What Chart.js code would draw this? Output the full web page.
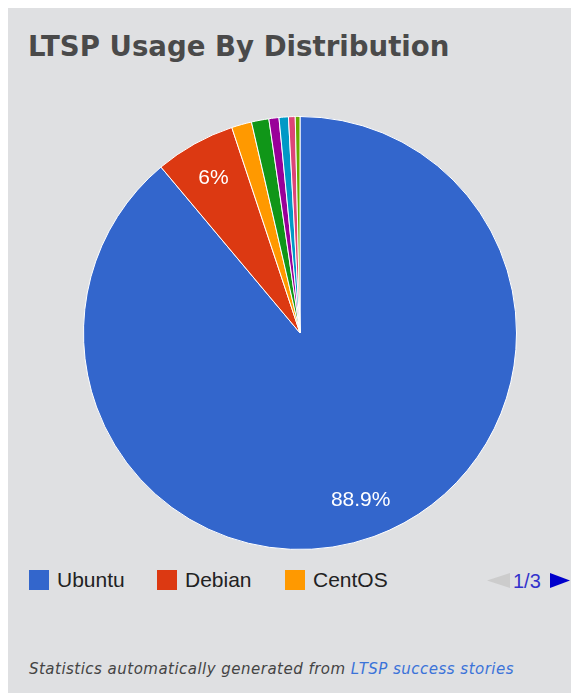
<!DOCTYPE html>
<html>
<head>
<meta charset="utf-8">
<script src="https://cdn.jsdelivr.net/npm/chart.js@4"></script>
<style>
  body { margin: 0; background: #fff; }
  #panel { position: absolute; left: 8px; top: 8px; width: 563px; height: 685px; background: #dfe0e2; }
  #title { position: absolute; left: 20px; top: 22px; margin: 0; font: bold 27.6px "DejaVu Sans", sans-serif; color: #4a4a4a; white-space: nowrap; }
  #pie { position: absolute; left: 75px; top: 108px; }
  #legend { position: absolute; left: 21px; top: 562px; height: 20px; font: 21px "Liberation Sans", Arial, sans-serif; color: #222; }
  .item { position: absolute; top: 0; white-space: nowrap; }
  .box { position: absolute; left: 0; top: 0; width: 20px; height: 20px; }
  .item span { position: absolute; left: 28px; top: -2px; }
  #pager { position: absolute; left: 479px; top: 563px; font: 20px "Liberation Sans", Arial, sans-serif; color: #3333cc; white-space: nowrap; }
  #footer { position: absolute; left: 21px; top: 652px; font: oblique 15px "DejaVu Sans", sans-serif; letter-spacing: 0.48px; color: #444; white-space: nowrap; }
  #footer a { color: #3b73d9; text-decoration: none; }
</style>
</head>
<body>
<div id="panel">
  <h1 id="title">LTSP Usage By Distribution</h1>
  <canvas id="pie" width="434" height="434"></canvas>
  <div id="legend"></div>
  <div id="pager">
    <svg width="23" height="15" style="position:absolute;left:0;top:2px"><polygon points="23,0 23,15 0,7.5" fill="#cccccc"/></svg>
    <span style="position:absolute;left:26px;top:-1px">1/3</span>
    <svg width="20" height="15" style="position:absolute;left:63px;top:2px"><polygon points="0,0 0,15 20,7.5" fill="#0000cc"/></svg>
  </div>
  <div id="footer">Statistics automatically generated from <a href="#">LTSP success stories</a></div>
</div>
<script>
// distributions, first legend page shows three of them
const distros = ['Ubuntu', 'Debian', 'CentOS', 'Fedora', 'openSUSE', 'Gentoo', 'Mandriva', 'Other'];
const usage = [88.9, 6.0, 1.5, 1.3, 0.75, 0.7, 0.5, 0.35];
const colors = ['#3366cc', '#dc3912', '#ff9900', '#109618', '#990099', '#0099c6', '#dd4477', '#66aa00'];
const legendPage = 3;
const legendX = [0, 128, 256];

// percent text on the big slices
const sliceText = {
    id: 'sliceText',
    afterDatasetsDraw(chart) {
        const ctx = chart.ctx;
        const data = chart.data.datasets[0].data;
        const total = data.reduce((a, b) => a + b, 0);
        chart.getDatasetMeta(0).data.forEach((arc, i) => {
            const pct = data[i] / total * 100;
            if (pct < 5) return;
            const mid = (arc.startAngle + arc.endAngle) / 2;
            const r = arc.outerRadius * 0.82;
            ctx.save();
            ctx.fillStyle = '#fff';
            ctx.font = '21px "Liberation Sans", Arial, sans-serif';
            ctx.textAlign = 'center';
            ctx.textBaseline = 'middle';
            ctx.fillText(Math.round(pct * 10) / 10 + '%', arc.x + Math.cos(mid) * r, arc.y + Math.sin(mid) * r);
            ctx.restore();
        });
    }
};

const chart = new Chart(document.getElementById('pie'), {
    type: 'pie',
    data: {
        labels: distros,
        datasets: [{
            data: usage,
            backgroundColor: colors,
            borderColor: '#ffffff',
            borderWidth: 1
        }]
    },
    options: {
        responsive: false,
        animation: false,
        layout: { padding: 0 },
        plugins: {
            legend: { display: false },
            tooltip: { enabled: false }
        }
    },
    plugins: [sliceText]
});

const legend = document.getElementById('legend');
chart.data.labels.slice(0, legendPage).forEach((name, i) => {
    const item = document.createElement('div');
    item.className = 'item';
    item.style.left = legendX[i] + 'px';
    item.innerHTML = '<div class="box" style="background:' + colors[i] + '"></div><span>' + name + '</span>';
    legend.appendChild(item);
});
</script>
</body>
</html>
